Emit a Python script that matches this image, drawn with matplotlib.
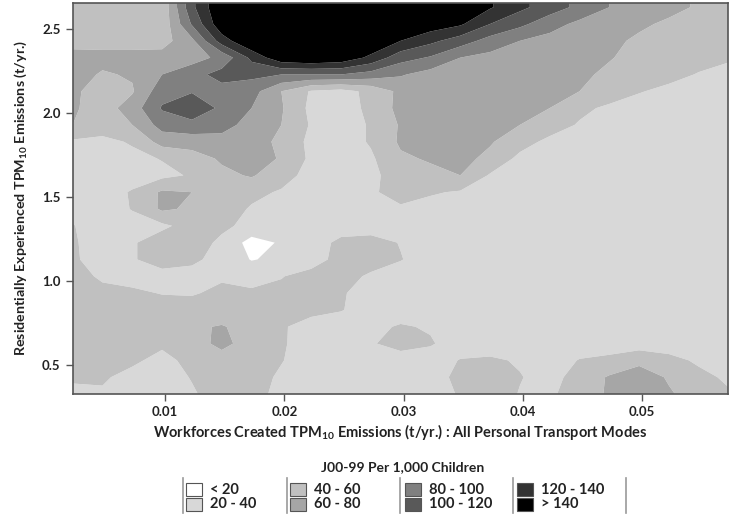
import numpy as np
import matplotlib
matplotlib.use("Agg")
import matplotlib.pyplot as plt
from matplotlib.patches import Rectangle
from matplotlib.lines import Line2D

plt.rcParams["font.family"] = ["Lato", "DejaVu Sans"]
plt.rcParams["font.weight"] = "bold"
plt.rcParams["mathtext.fontset"] = "custom"
plt.rcParams["mathtext.rm"] = "Lato:bold"
plt.rcParams["mathtext.it"] = "Lato:bold"
plt.rcParams["mathtext.bf"] = "Lato:bold"

# Grid axes (t/yr.)
workforce_tpm10 = np.round(np.arange(0.00225, 0.0573, 0.0025), 5)   # 23 columns
residential_tpm10 = np.round(np.arange(0.33, 2.74, 0.1), 2)           # 25 rows

# J00-99 rate per 1,000 children; rows listed from the highest residential value down
rate_rows_top_down = [
    [50, 50, 50, 45, 115, 160, 170, 170, 170, 170, 170, 165, 160, 150, 142, 125, 110, 95, 80, 72, 65, 58, 52],
    [50, 50, 50, 45, 115, 160, 170, 170, 170, 170, 170, 165, 160, 150, 142, 125, 110, 95, 80, 72, 65, 58, 52],
    [50, 50, 50, 46, 102, 155, 170, 170, 170, 170, 165, 160, 152, 143, 120, 105, 88, 75, 70, 63, 57, 53, 50],
    [52, 53, 53, 52, 75, 130, 160, 170, 170, 170, 160, 140, 125, 110, 92, 80, 73, 70, 64, 57, 53, 50, 48],
    [68, 66, 66, 68, 72, 85, 125, 155, 160, 155, 135, 108, 98, 80, 74, 71, 70, 68, 61, 55, 50, 46, 42],
    [68, 58, 62, 80, 92, 108, 105, 100, 100, 100, 92, 82, 72, 72, 70, 70, 68, 63, 57, 50, 45, 39, 35],
    [65, 48, 58, 92, 98, 92, 88, 60, 38, 33, 45, 65, 70, 70, 68, 66, 64, 60, 52, 41, 36, 33, 30],
    [63, 50, 70, 102, 118, 95, 80, 62, 35, 30, 45, 66, 70, 70, 67, 63, 60, 45, 36, 33, 31, 30, 30],
    [60, 50, 60, 88, 92, 88, 72, 60, 38, 30, 42, 62, 68, 70, 66, 60, 50, 38, 33, 30, 30, 30, 30],
    [37, 35, 42, 68, 70, 72, 70, 55, 35, 30, 42, 63, 65, 66, 62, 48, 35, 30, 30, 30, 30, 30, 30],
    [32, 30, 35, 41, 50, 63, 70, 58, 36, 30, 37, 57, 62, 66, 55, 35, 30, 30, 30, 30, 30, 30, 30],
    [30, 30, 30, 35, 42, 55, 62, 48, 33, 30, 35, 50, 55, 60, 38, 30, 30, 30, 30, 30, 30, 30, 30],
    [30, 30, 42, 63, 60, 52, 45, 38, 30, 28, 37, 48, 42, 38, 33, 30, 30, 30, 30, 30, 30, 30, 30],
    [35, 30, 41, 63, 57, 50, 38, 30, 28, 28, 30, 37, 33, 30, 30, 30, 30, 30, 30, 30, 30, 30, 30],
    [41, 30, 32, 36, 48, 45, 33, 28, 28, 30, 30, 30, 30, 30, 30, 30, 30, 30, 30, 30, 30, 30, 30],
    [42, 32, 38, 50, 52, 35, 13, 22, 30, 45, 48, 39, 30, 30, 30, 30, 30, 30, 30, 30, 30, 30, 30],
    [42, 34, 38, 50, 44, 33, 19, 24, 30, 48, 52, 41, 30, 30, 30, 30, 30, 30, 30, 30, 30, 30, 30],
    [50, 36, 32, 32, 33, 37, 33, 39, 48, 50, 36, 30, 30, 30, 30, 30, 30, 30, 30, 30, 30, 30, 30],
    [52, 47, 44, 39, 38, 45, 43, 45, 50, 42, 32, 30, 30, 30, 30, 30, 30, 30, 30, 30, 30, 30, 30],
    [52, 53, 52, 50, 50, 52, 52, 48, 45, 41, 32, 30, 30, 30, 30, 30, 30, 30, 30, 30, 30, 30, 30],
    [52, 54, 55, 56, 58, 61, 55, 42, 33, 30, 35, 42, 38, 30, 30, 30, 30, 30, 30, 30, 30, 30, 30],
    [48, 50, 47, 43, 52, 65, 52, 42, 32, 32, 38, 48, 42, 30, 30, 30, 30, 30, 30, 30, 30, 30, 30],
    [44, 45, 43, 35, 45, 52, 50, 41, 30, 30, 30, 30, 30, 41, 43, 38, 30, 41, 45, 55, 46, 37, 30],
    [43, 42, 35, 32, 41, 50, 48, 37, 30, 30, 30, 30, 32, 45, 50, 41, 33, 48, 62, 70, 58, 45, 37],
    [35, 38, 32, 30, 38, 48, 45, 36, 30, 30, 30, 30, 30, 42, 50, 39, 36, 52, 62, 68, 62, 52, 42],
]

band_edges = [0, 20, 40, 60, 80, 100, 120, 140, 1000]
band_labels = ["< 20", "20 - 40", "40 - 60", "60 - 80", "80 - 100", "100 - 120", "120 - 140", "> 140"]
band_colors = ["#ffffff", "#d8d8d8", "#c0c0c0", "#a6a6a6", "#808080", "#595959", "#333333", "#000000"]

x_ticks = [0.01, 0.02, 0.03, 0.04, 0.05]
y_ticks = [0.5, 1.0, 1.5, 2.0, 2.5]

rate = np.array(rate_rows_top_down, dtype=float)[::-1]
X, Y = np.meshgrid(workforce_tpm10, residential_tpm10)

W, H = 729, 521
fig = plt.figure(figsize=(W / 100, H / 100), dpi=100)
ax = fig.add_axes([73 / W, 1 - 393.5 / H, (728 - 73) / W, (393.5 - 3) / H])

ax.contourf(X, Y, rate, levels=band_edges, colors=band_colors, antialiased=True)

ax.set_xlim(0.00228, 0.0572)
ax.set_ylim(0.333, 2.655)
ax.set_xticks(x_ticks)
ax.set_xticklabels([f"{v:.2f}" for v in x_ticks])
ax.set_yticks(y_ticks)
ax.set_yticklabels([f"{v:.1f}" for v in y_ticks])
ax.tick_params(direction="out", length=5, width=1, color="#555555",
               labelsize=9.5, labelcolor="#222222", pad=4)
for lab in ax.get_xticklabels() + ax.get_yticklabels():
    lab.set_fontweight("bold")
for sp in ax.spines.values():
    sp.set_color("#555555")
    sp.set_linewidth(1.2)

ax.set_xlabel(r"Workforces Created TPM$_{10}$ Emissions (t/yr.) : All Personal Transport Modes",
              fontsize=10.5, fontweight="bold", color="#222222", labelpad=3)
ax.set_ylabel(r"Residentially Experienced TPM$_{10}$ Emissions (t/yr.)",
              fontsize=10.3, fontweight="bold", color="#222222", labelpad=9)

# Legend block below the plot
def fx(px):
    return px / W

def fy(py):
    return 1 - py / H

fig.text(fx(403), fy(467), "J00-99 Per 1,000 Children", ha="center", va="center",
         fontsize=10, fontweight="bold", color="#222222")

col_left = [186, 290, 405, 517]
row_top = [483, 498]
for k, (lab, col) in enumerate(zip(band_labels, band_colors)):
    c, r = divmod(k, 2)
    x0, y0 = col_left[c], row_top[r]
    fig.add_artist(Rectangle((fx(x0), fy(y0 + 13)), 16 / W, 13 / H, transform=fig.transFigure,
                             facecolor=col, edgecolor="#555555", linewidth=0.8))
    fig.text(fx(x0 + 24), fy(y0 + 6.5), lab, ha="left", va="center",
             fontsize=10.5, fontweight="bold", color="#222222")

for sx in [183, 287, 400, 513, 626]:
    fig.add_artist(Line2D([fx(sx), fx(sx)], [fy(478), fy(513)], transform=fig.transFigure,
                          color="#999999", linewidth=1.2))

fig.savefig("out.png", dpi=100)
